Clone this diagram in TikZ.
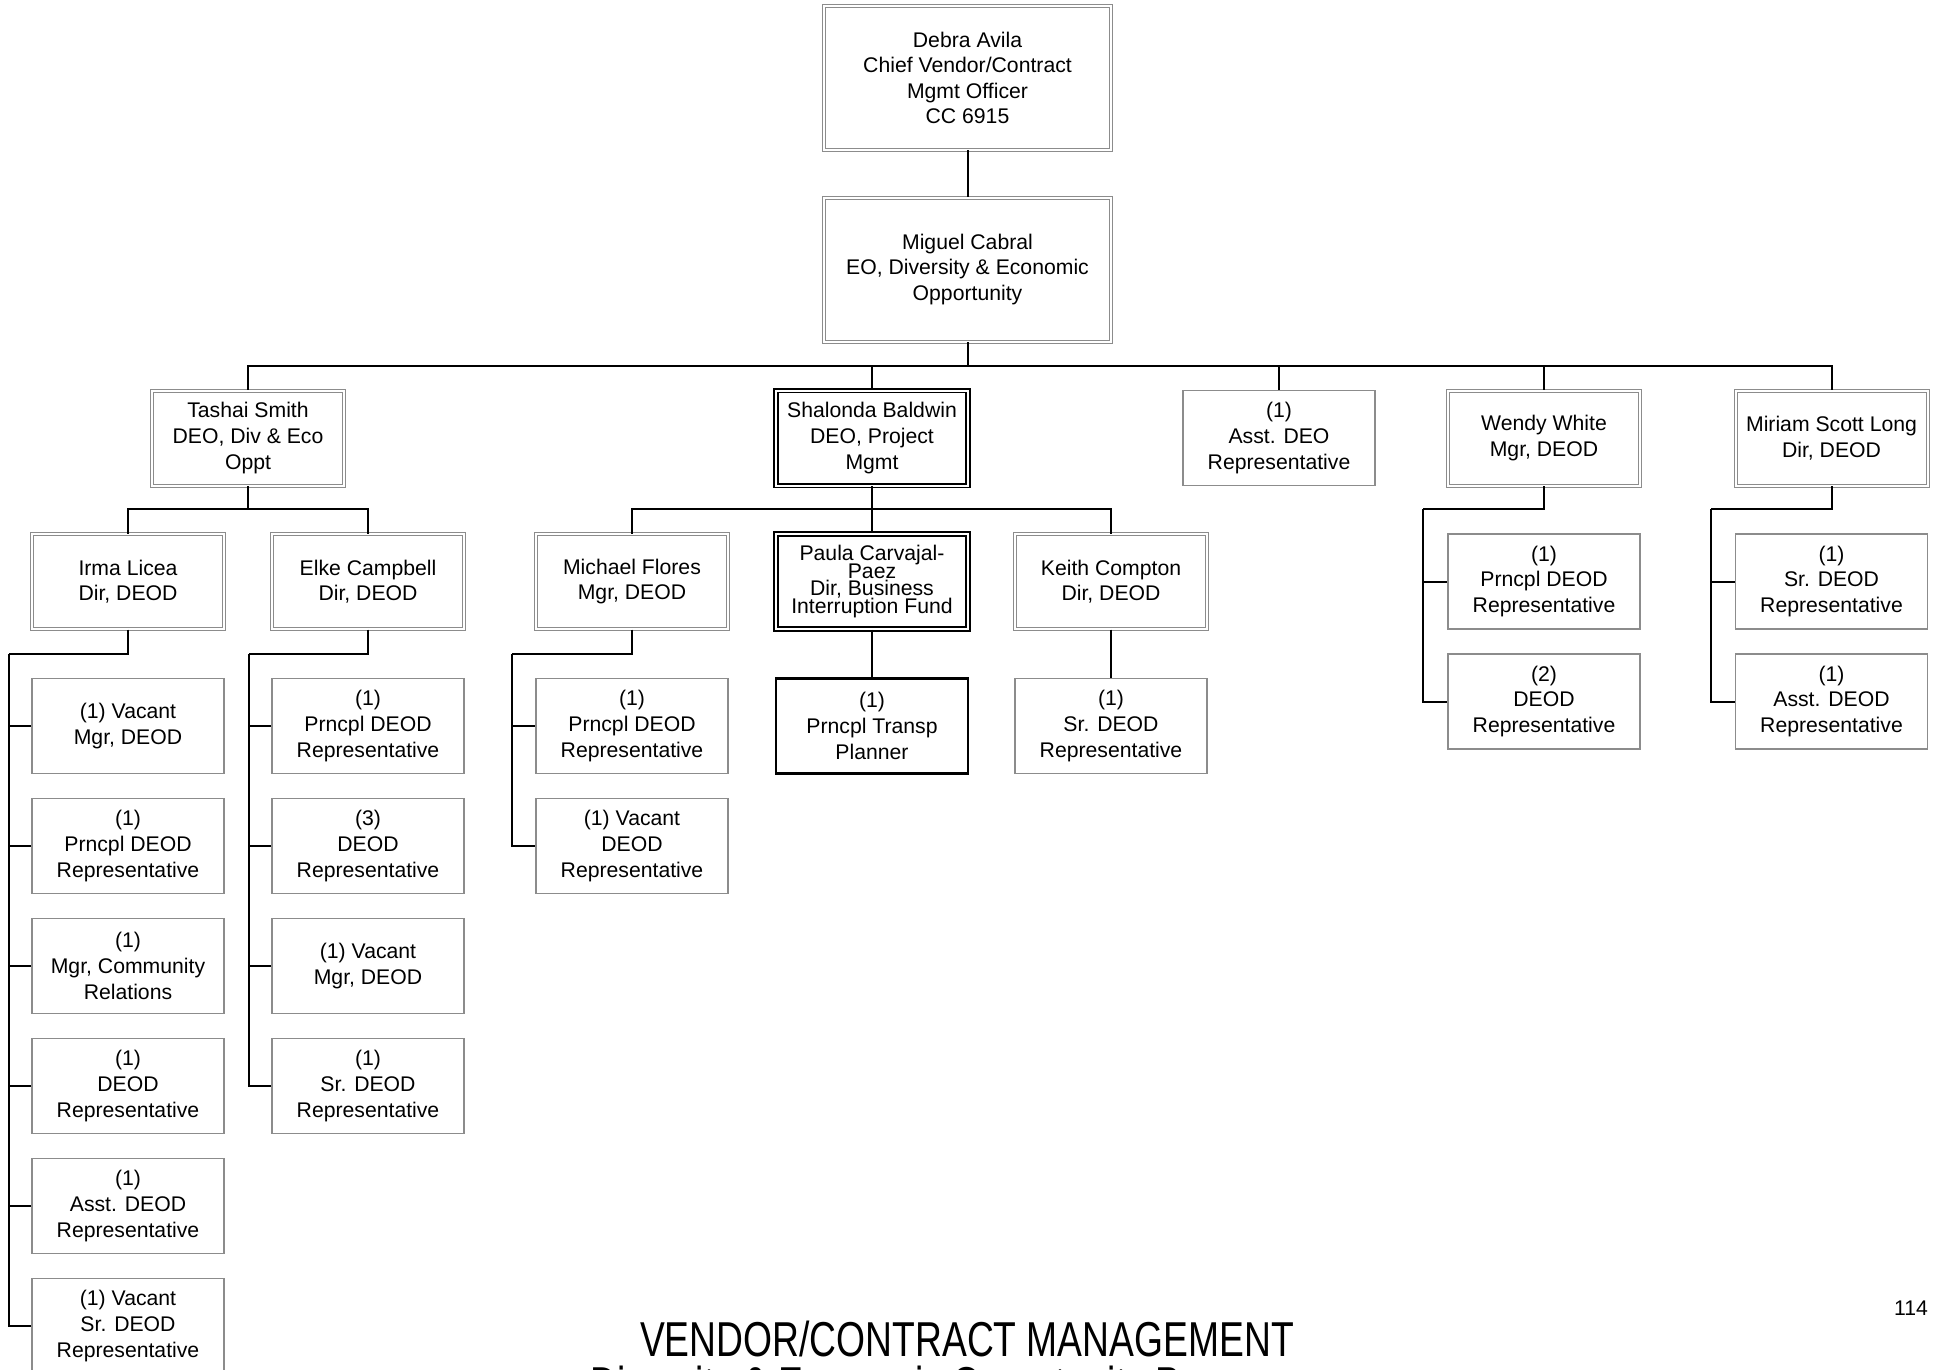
\documentclass[tikz,border=0pt]{standalone}
\usepackage{fontspec}
\setmainfont{Liberation Sans}
\usepackage{tikz}
\usetikzlibrary{positioning}
\tikzset{
  posn/.style={
    draw=black!45,
    line width=0.6pt,
    fill=white,
    minimum width=96pt,
    minimum height=47.5pt,
    inner sep=1pt,
    align=center,
    font=\fontsize{10.6}{12.8}\selectfont
  },
  posn dbl/.style={
    posn,
    double,
    double distance=1pt,
    line width=0.5pt
  },
  posn head/.style={
    posn dbl,
    minimum width=143.5pt,
    minimum height=72pt
  },
  posn bold/.style={
    posn,
    draw=black,
    line width=0.9pt,
    double,
    double distance=1pt
  },
  posn black/.style={
    posn,
    draw=black,
    line width=1.1pt
  },
  connection/.style={
    line width=1pt,
    draw=black
  },
  pagetitle/.style={
    font=\fontsize{24.5}{28}\selectfont,
    inner sep=0pt
  }
}

\begin{document}
\begin{tikzpicture}[x=0.5pt,y=-0.5pt]
  \useasboundingbox (0,0) rectangle (1939,1370);
  \clip (0,0) rectangle (1939,1370);

  % Head of the office
  \node[posn head] (debra) at (967.5,78) {Debra Avila\\Chief Vendor/Contract\\Mgmt Officer\\CC 6915};
  \node[posn head] (miguel) at (967.5,269.5) {Miguel Cabral\\EO, Diversity \& Economic\\Opportunity};

  % Second row
  \node[posn dbl] (tashai) at (248,438) {Tashai Smith\\DEO, Div \& Eco\\Oppt};
  \node[posn bold] (shalonda) at (872,438) {Shalonda Baldwin\\DEO, Project\\Mgmt};
  \node[posn] (asstdeo) at (1279,438) {(1)\\Asst. DEO\\Representative};
  \node[posn dbl] (wendy) at (1544,438) {Wendy White\\Mgr, DEOD};
  \node[posn dbl] (miriam) at (1831.5,438) {Miriam Scott Long\\Dir, DEOD};

  % Third row
  \node[posn dbl] (irma) at (128,581.5) {Irma Licea\\Dir, DEOD};
  \node[posn dbl] (elke) at (368,581.5) {Elke Campbell\\Dir, DEOD};
  \node[posn dbl] (michael) at (632,581.5) {Michael Flores\\Mgr, DEOD};
  \node[posn bold, font={\fontsize{10.6}{8.7}\selectfont\lineskiplimit=-20pt}] (paula) at (872,581.5) {Paula Carvajal-\\Paez\\Dir, Business\\Interruption Fund};
  \node[posn dbl] (keith) at (1111,581.5) {Keith Compton\\Dir, DEOD};
  \node[posn] (wendyA) at (1544,581.5) {(1)\\Prncpl DEOD\\Representative};
  \node[posn] (wendyB) at (1544,701.5) {(2)\\DEOD\\Representative};
  \node[posn] (miriamA) at (1831.5,581.5) {(1)\\Sr. DEOD\\Representative};
  \node[posn] (miriamB) at (1831.5,701.5) {(1)\\Asst. DEOD\\Representative};

  % Staff under Irma Licea
  \node[posn] (irmaA) at (128,726) {(1) Vacant\\Mgr, DEOD};
  \node[posn] (irmaB) at (128,846) {(1)\\Prncpl DEOD\\Representative};
  \node[posn] (irmaC) at (128,966) {(1)\\Mgr, Community\\Relations};
  \node[posn] (irmaD) at (128,1086) {(1)\\DEOD\\Representative};
  \node[posn] (irmaE) at (128,1206) {(1)\\Asst. DEOD\\Representative};
  \node[posn] (irmaF) at (128,1326) {(1) Vacant\\Sr. DEOD\\Representative};

  % Staff under Elke Campbell
  \node[posn] (elkeA) at (368,726) {(1)\\Prncpl DEOD\\Representative};
  \node[posn] (elkeB) at (368,846) {(3)\\DEOD\\Representative};
  \node[posn] (elkeC) at (368,966) {(1) Vacant\\Mgr, DEOD};
  \node[posn] (elkeD) at (368,1086) {(1)\\Sr. DEOD\\Representative};

  % Staff under Michael, Paula, Keith
  \node[posn] (michaelA) at (632,726) {(1)\\Prncpl DEOD\\Representative};
  \node[posn] (michaelB) at (632,846) {(1) Vacant\\DEOD\\Representative};
  \node[posn black] (paulaA) at (872,726) {(1)\\Prncpl Transp\\Planner};
  \node[posn] (keithA) at (1111,726) {(1)\\Sr. DEOD\\Representative};

  % Bus and spine points
  \coordinate (topbus) at (967.5,366);
  \coordinate (tashaibus) at (248,509);
  \coordinate (shalondabus) at (872,509);
  \coordinate (wendyspine) at (1423,509);
  \coordinate (miriamspine) at (1711,509);
  \coordinate (irmaspine) at (9,654);
  \coordinate (elkespine) at (249,654);
  \coordinate (michaelspine) at (512,654);

  % Reporting lines
  \draw[connection] (debra) -- (miguel);
  \draw[connection] (miguel) -- (topbus);
  \draw[connection] (topbus) -| (tashai);
  \draw[connection] (topbus) -| (shalonda);
  \draw[connection] (topbus) -| (asstdeo);
  \draw[connection] (topbus) -| (wendy);
  \draw[connection] (topbus) -| (miriam);

  \draw[connection] (tashai) -- (tashaibus);
  \draw[connection] (tashaibus) -| (irma);
  \draw[connection] (tashaibus) -| (elke);

  \draw[connection] (shalonda) -- (paula);
  \draw[connection] (shalondabus) -| (michael);
  \draw[connection] (shalondabus) -| (keith);

  \draw[connection] (wendy) |- (wendyspine);
  \draw[connection] (wendyspine) |- (wendyA);
  \draw[connection] (wendyspine) |- (wendyB);
  \draw[connection] (miriam) |- (miriamspine);
  \draw[connection] (miriamspine) |- (miriamA);
  \draw[connection] (miriamspine) |- (miriamB);

  \draw[connection] (irma) |- (irmaspine);
  \draw[connection] (irmaspine) |- (irmaA);
  \draw[connection] (irmaspine) |- (irmaB);
  \draw[connection] (irmaspine) |- (irmaC);
  \draw[connection] (irmaspine) |- (irmaD);
  \draw[connection] (irmaspine) |- (irmaE);
  \draw[connection] (irmaspine) |- (irmaF);

  \draw[connection] (elke) |- (elkespine);
  \draw[connection] (elkespine) |- (elkeA);
  \draw[connection] (elkespine) |- (elkeB);
  \draw[connection] (elkespine) |- (elkeC);
  \draw[connection] (elkespine) |- (elkeD);

  \draw[connection] (michael) |- (michaelspine);
  \draw[connection] (michaelspine) |- (michaelA);
  \draw[connection] (michaelspine) |- (michaelB);

  \draw[connection] (paula) -- (paulaA);
  \draw[connection] (keith) -- (keithA);

  % Page title and number
  \node[pagetitle, anchor=base] (title) at (967,1356) {\scalebox{0.76}[1]{VENDOR/CONTRACT MANAGEMENT}};
  \node[pagetitle, anchor=base west] (subtitle) at (590,1401) {\scalebox{0.76}[1]{Diversity \& Economic Opportunity Program}};
  \node[font=\fontsize{10.6}{12}\selectfont, inner sep=0pt] (pageno) at (1911,1308) {114};
\end{tikzpicture}
\end{document}
